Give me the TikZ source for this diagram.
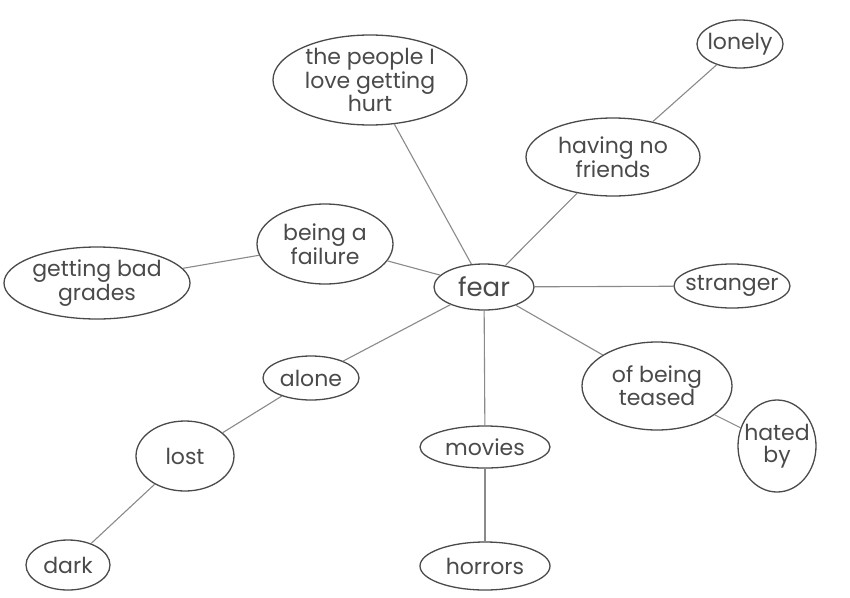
\documentclass[tikz,border=0pt]{standalone}
\usepackage{fontspec}
\setmainfont{Poppins}
\usetikzlibrary{shapes.geometric}
\definecolor{inkc}{HTML}{4A4A4A}
\definecolor{linec}{HTML}{8A8A8A}
\tikzset{
  bubble/.style={ellipse, draw=inkc, line width=1.3pt, inner sep=-6pt, align=center,
    text=inkc, font=\fontsize{22}{22}\selectfont},
  link/.style={draw=linec, line width=1.1pt}
}
\begin{document}
\begin{tikzpicture}[x=1pt,y=-1pt]
\useasboundingbox[fill=white] (0,0) rectangle (850,597);
\node[bubble, minimum width=194pt, minimum height=90pt] (people) at (370,80) {the people I\\love getting\\hurt};
\node[bubble, minimum width=86pt, minimum height=48pt] (lonely) at (740,44) {lonely};
\node[bubble, minimum width=174pt, minimum height=78pt] (friends) at (613,157) {having no\\friends};
\node[bubble, minimum width=116pt, minimum height=44pt] (stranger) at (732,286) {stranger};
\node[bubble, minimum width=136pt, minimum height=80pt] (failure) at (325,244) {being a\\failure};
\node[bubble, minimum width=186pt, minimum height=72pt] (grades) at (97,283) {getting bad\\grades};
\node[bubble, minimum width=100pt, minimum height=46pt, font=\fontsize{26}{26}\selectfont] (fear) at (484,287) {fear};
\node[bubble, minimum width=96pt, minimum height=44pt] (alone) at (311,378) {alone};
\node[bubble, minimum width=150pt, minimum height=88pt] (teased) at (657,386) {of being\\teased};
\node[bubble, minimum width=78pt, minimum height=92pt] (hated) at (777,446) {hated\\by};
\node[bubble, minimum width=98pt, minimum height=70pt] (lost) at (185,456) {lost};
\node[bubble, minimum width=130pt, minimum height=42pt] (movies) at (485,447) {movies};
\node[bubble, minimum width=84pt, minimum height=50pt] (dark) at (68,565) {dark};
\node[bubble, minimum width=130pt, minimum height=48pt] (horrors) at (485,566) {horrors};
\draw[link] (fear) -- (people);
\draw[link] (fear) -- (friends);
\draw[link] (friends) -- (lonely);
\draw[link] (fear) -- (stranger);
\draw[link] (fear) -- (failure);
\draw[link] (failure) -- (grades);
\draw[link] (fear) -- (alone);
\draw[link] (alone) -- (lost);
\draw[link] (lost) -- (dark);
\draw[link] (fear) -- (movies);
\draw[link] (movies) -- (horrors);
\draw[link] (fear) -- (teased);
\draw[link] (teased) -- (hated);
\end{tikzpicture}
\end{document}
